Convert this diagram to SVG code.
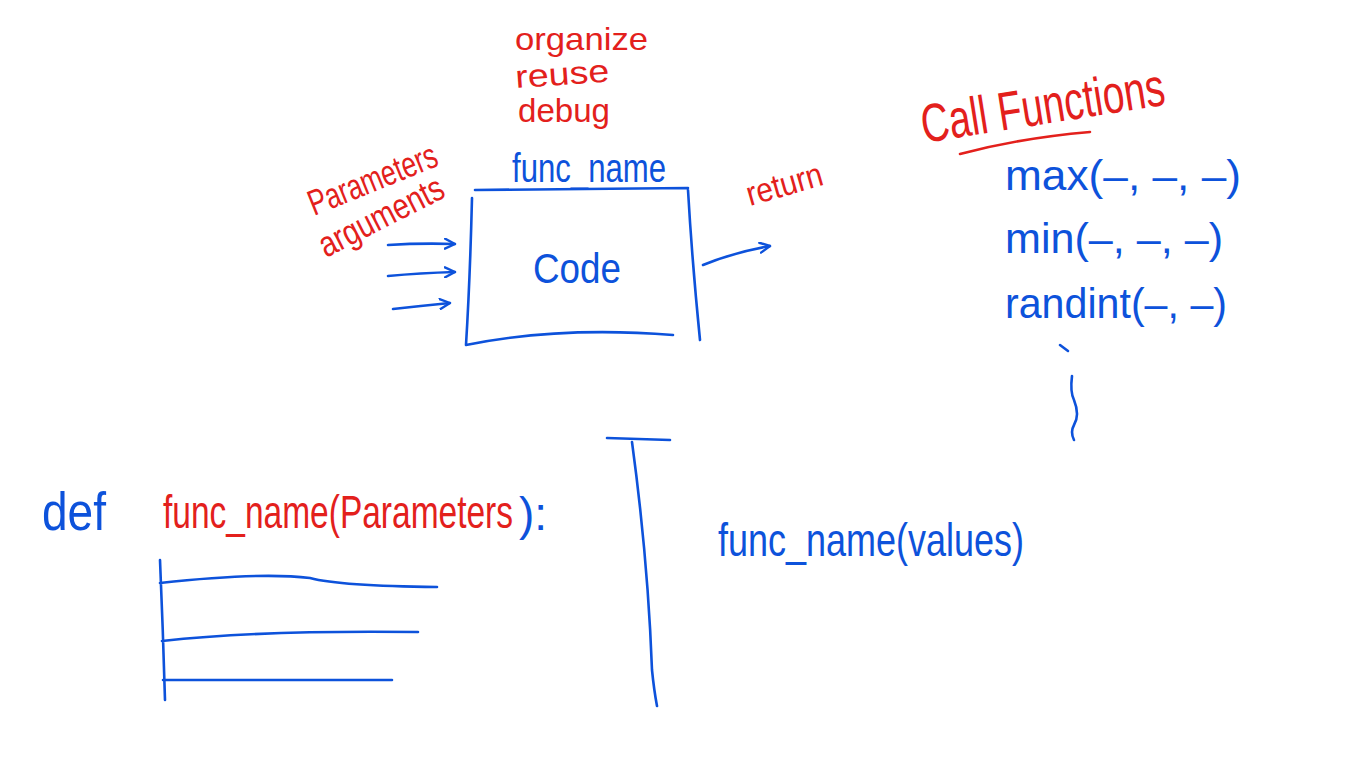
<svg xmlns="http://www.w3.org/2000/svg" width="1366" height="768" viewBox="0 0 1366 768">
<style>
.b{fill:#0d52db;}
.r{fill:#e3201c;}
.t{font-family:"Liberation Sans",Arial,sans-serif;font-weight:normal;}
.ln{fill:none;stroke:#0d52db;stroke-width:2.6;stroke-linecap:round;stroke-linejoin:round;}
.lr{fill:none;stroke:#e3201c;stroke-width:2.6;stroke-linecap:round;stroke-linejoin:round;}
</style>
<defs>
<marker id="ah" viewBox="0 0 12 12" refX="11" refY="6" markerWidth="12" markerHeight="12" markerUnits="userSpaceOnUse" orient="auto">
<path d="M1,1 L11,6 L1,11" fill="none" stroke="#0d52db" stroke-width="2.4" stroke-linecap="round" stroke-linejoin="round"/>
</marker>
</defs>
<rect width="1366" height="768" fill="#ffffff"/>

<g id="box">
<path class="ln" d="M475,190 L688,188 M688,190 Q692,260 700,340 M472,198 Q470,280 466,345 M466,345 Q560,326 673,335"/>
<text class="t b" x="533" y="283" font-size="42" textLength="88" lengthAdjust="spacingAndGlyphs">Code</text>
<text class="t b" x="512" y="182" font-size="40" textLength="154" lengthAdjust="spacingAndGlyphs">func_name</text>
</g>

<g id="purpose">
<text class="t r" x="515" y="50" font-size="32" textLength="133" lengthAdjust="spacingAndGlyphs">organize</text>
<text class="t r" x="516" y="88" font-size="32" textLength="94" lengthAdjust="spacingAndGlyphs" transform="rotate(-4 516 88)">reuse</text>
<text class="t r" x="518" y="122" font-size="34" textLength="92" lengthAdjust="spacingAndGlyphs">debug</text>
</g>

<g id="inputs-label">
<text class="t r" x="314" y="216" font-size="36" textLength="136" lengthAdjust="spacingAndGlyphs" transform="rotate(-22 314 216)">Parameters</text>
<text class="t r" x="326" y="258" font-size="36" textLength="136" lengthAdjust="spacingAndGlyphs" transform="rotate(-27 326 258)">arguments</text>
</g>

<g id="return-label">
<text class="t r" x="750" y="206" font-size="34" textLength="78" lengthAdjust="spacingAndGlyphs" transform="rotate(-16 750 206)">return</text>
</g>

<g id="call-functions">
<text class="t r" x="924" y="143" font-size="54" textLength="246" lengthAdjust="spacingAndGlyphs" transform="rotate(-9 924 143)">Call Functions</text>
<path class="lr" d="M960,154 Q1020,138 1090,132"/>
<text class="t b" x="1005" y="190" font-size="42" textLength="236" lengthAdjust="spacingAndGlyphs">max(–, –, –)</text>
<text class="t b" x="1005" y="253" font-size="42" textLength="218" lengthAdjust="spacingAndGlyphs">min(–, –, –)</text>
<text class="t b" x="1005" y="318" font-size="42" textLength="222" lengthAdjust="spacingAndGlyphs">randint(–, –)</text>
<path class="ln" d="M1060,345 L1068,351 M1072,376 Q1070,392 1074,400 Q1080,415 1074,425 Q1070,432 1074,440"/>
</g>

<g id="definition">
<text class="t b" x="42" y="530" font-size="54" textLength="64" lengthAdjust="spacingAndGlyphs">def</text>
<text class="t r" font-size="33.5" transform="translate(163,528) scale(1,1.4)">func_name(Parameters</text>
<text class="t b" x="519" y="530" font-size="46">):</text>
<path class="ln" d="M160,560 Q163,630 165,700 M160,583 Q260,572 310,578 Q340,586 437,587 M162,641 Q260,630 418,632 M163,680 L392,680"/>
</g>

<g id="call">
<path class="ln" d="M607,438 L670,440 M632,442 Q648,560 652,670 Q654,690 657,706"/>
<text class="t b" x="718" y="556" font-size="46" textLength="306" lengthAdjust="spacingAndGlyphs">func_name(values)</text>
</g>

<g id="connectors">
<path class="ln" d="M388,245 Q420,243 455,244" marker-end="url(#ah)"/>
<path class="ln" d="M388,276 Q420,273 455,272" marker-end="url(#ah)"/>
<path class="ln" d="M393,309 Q420,306 450,303" marker-end="url(#ah)"/>
<path class="ln" d="M703,265 Q735,252 770,246" marker-end="url(#ah)"/>
</g>
</svg>
